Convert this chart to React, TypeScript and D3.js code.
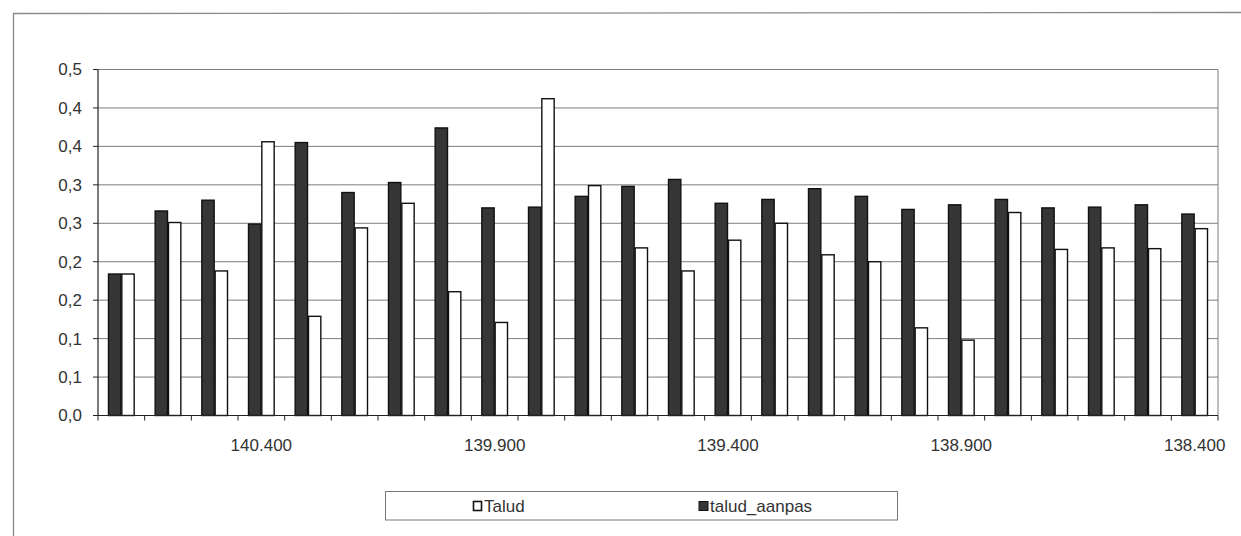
import React from "react";
import * as d3 from "d3";

const categories = [
  "140.700", "140.600", "140.500", "140.400", "140.300", "140.200",
  "140.100", "140.000", "139.900", "139.800", "139.700", "139.600",
  "139.500", "139.400", "139.300", "139.200", "139.100", "139.000",
  "138.900", "138.800", "138.700", "138.600", "138.500", "138.400",
];

const taludAanpas = [
  0.184, 0.266, 0.280, 0.249, 0.355, 0.290, 0.303, 0.374, 0.270, 0.271, 0.285, 0.298,
  0.307, 0.276, 0.281, 0.295, 0.285, 0.268, 0.274, 0.281, 0.270, 0.271, 0.274, 0.262,
];

const talud = [
  0.184, 0.251, 0.188, 0.356, 0.129, 0.244, 0.276, 0.161, 0.121, 0.412, 0.299, 0.218,
  0.188, 0.228, 0.250, 0.209, 0.200, 0.114, 0.098, 0.264, 0.216, 0.218, 0.217, 0.243,
];

const xTickLabels = ["140.400", "139.900", "139.400", "138.900", "138.400"];
const yTickValues = [0, 0.05, 0.1, 0.15, 0.2, 0.25, 0.3, 0.35, 0.4, 0.45];
const yTickLabels = ["0,0", "0,1", "0,1", "0,2", "0,2", "0,3", "0,3", "0,4", "0,4", "0,5"];
const seriesNames = ["talud_aanpas", "Talud"];
const legendNames = ["Talud", "talud_aanpas"];

const W = 1241;
const H = 536;
const plot = { left: 98, right: 1218, top: 69.5, bottom: 415.5 };
const FONT = "'Liberation Sans', Arial, sans-serif";
const DARK = "#363636";
const FS = 17;

export default function App() {
  const x0 = d3.scaleBand<string>().domain(categories).range([plot.left, plot.right]).paddingInner(0).paddingOuter(0);
  const bw = x0.bandwidth();
  const gap = (bw * 0.75) / 3.5;
  const x1 = d3.scaleBand<string>().domain(seriesNames).range([gap, bw - gap]).padding(0);
  const y = d3.scaleLinear().domain([0, 0.45]).range([plot.bottom, plot.top]);

  const boundaries = d3.range(categories.length + 1).map((i) => plot.left + i * bw);
  const values: Record<string, number[]> = { talud_aanpas: taludAanpas, Talud: talud };

  return (
    <svg width={W} height={H} style={{ position: "absolute", left: 0, top: 0, background: "#fff" }} fontFamily={FONT}>
      <rect x={0} y={0} width={W} height={H} fill="#fff" />
      {/* outer chart frame */}
      <path d={`M13.5,${H + 5} L13.5,13.5 L${W + 5},12.5`} fill="none" stroke="#8a8a8a" strokeWidth={1.3} />
      {/* gridlines */}
      {yTickValues.map((v, i) => (
        <line key={"g" + i} x1={plot.left} x2={plot.right} y1={y(v)} y2={y(v)} stroke="#7d7d7d" strokeWidth={1} />
      ))}
      {/* plot right border */}
      <line x1={plot.right} x2={plot.right} y1={plot.top} y2={plot.bottom} stroke="#7d7d7d" strokeWidth={1} />
      {/* bars */}
      {categories.map((c, i) => (
        <g key={c} transform={`translate(${x0(c)},0)`}>
          {seriesNames.map((s) => {
            const v = values[s][i];
            const isDark = s === "talud_aanpas";
            return (
              <rect
                key={s}
                x={(x1(s) as number) + 0.5}
                y={y(v)}
                width={x1.bandwidth() - 1}
                height={plot.bottom - y(v)}
                fill={isDark ? DARK : "#fff"}
                stroke="#111"
                strokeWidth={1.4}
              />
            );
          })}
        </g>
      ))}
      {/* y axis */}
      <line x1={plot.left} x2={plot.left} y1={plot.top} y2={plot.bottom} stroke="#222" strokeWidth={1.2} />
      {yTickValues.map((v, i) => (
        <g key={"yt" + i}>
          <line x1={plot.left - 5} x2={plot.left} y1={y(v)} y2={y(v)} stroke="#222" strokeWidth={1} />
          <text x={82} y={y(v)} dy="0.35em" textAnchor="end" fontSize={FS} fill="#333">
            {yTickLabels[i]}
          </text>
        </g>
      ))}
      {/* x axis */}
      <line x1={plot.left} x2={plot.right} y1={plot.bottom} y2={plot.bottom} stroke="#222" strokeWidth={1.2} />
      {boundaries.map((bx, i) => (
        <line key={"xt" + i} x1={bx} x2={bx} y1={plot.bottom} y2={plot.bottom + 5} stroke="#222" strokeWidth={1} />
      ))}
      {categories.map((c) =>
        xTickLabels.includes(c) ? (
          <text key={"xl" + c} x={(x0(c) as number) + bw / 2} y={451} textAnchor="middle" fontSize={FS} fill="#333">
            {c}
          </text>
        ) : null
      )}
      {/* legend */}
      <rect x={385.5} y={491.5} width={512} height={28.5} fill="#fff" stroke="#777" strokeWidth={1} />
      <rect x={473.5} y={501.5} width={8} height={9} fill="#fff" stroke="#111" strokeWidth={1.6} />
      <text x={484} y={511.5} fontSize={FS} fill="#333">{legendNames[0]}</text>
      <rect x={699} y={501.5} width={9} height={9} fill={DARK} stroke="#111" strokeWidth={1} />
      <text x={710} y={511.5} fontSize={FS} fill="#333">{legendNames[1]}</text>
    </svg>
  );
}
